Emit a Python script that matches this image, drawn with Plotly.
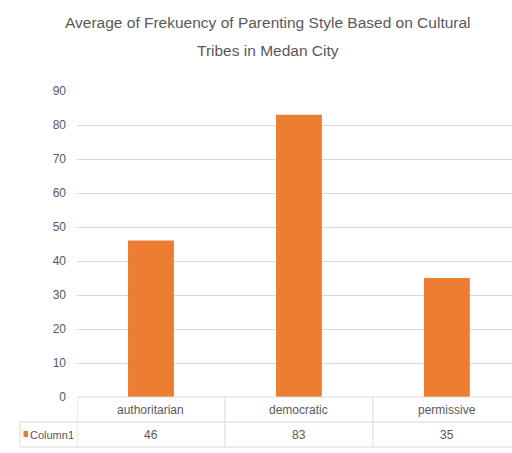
import plotly.graph_objects as go

categories = ["authoritarian", "democratic", "permissive"]
values = [46, 83, 35]
series_name = "Column1"
title_lines = ["Average of Frekuency of Parenting Style Based on Cultural", "Tribes in Medan City"]
y_ticks = list(range(0, 100, 10))

BAR = "#ED7D31"
TXT = "#595959"
GRID = "#D9D9D9"
FONT = "Liberation Sans, Arial, sans-serif"

W, H = 512, 453
ML, MR, MT, MB = 77, 0, 91, 56
plot_h = H - MT - MB
plot_w = W - ML - MR

def py(px):
    # pixel offset below the plot bottom -> paper y
    return -px / plot_h

def pxp(px):
    return (px - ML) / plot_w

def top_px(px):
    # pixel from top of figure -> paper y
    return 1 + (MT - px) / plot_h

idx = list(range(len(categories)))

fig = go.Figure()
fig.add_trace(go.Bar(x=idx, y=values, marker=dict(color=BAR, line=dict(width=0)),
                     width=0.31, name=series_name, showlegend=False))

shapes = []
annotations = []
row1 = py(25)
row2 = py(50)
shapes.append(dict(type="line", xref="paper", yref="paper", x0=0, x1=1, y0=0, y1=0,
                   line=dict(color=GRID, width=1)))
for yy in (row1, row2):
    shapes.append(dict(type="line", xref="paper", yref="paper", x0=pxp(20), x1=1, y0=yy, y1=yy,
                       line=dict(color=GRID, width=1)))
for i in idx:
    shapes.append(dict(type="line", xref="x", yref="paper", x0=i - 0.5, x1=i - 0.5, y0=0, y1=row2,
                       line=dict(color=GRID, width=1)))
shapes.append(dict(type="line", xref="paper", yref="paper", x0=pxp(20), x1=pxp(20), y0=row1, y1=row2,
                   line=dict(color=GRID, width=1)))
shapes.append(dict(type="rect", xref="paper", yref="paper", x0=pxp(23.5), x1=pxp(28),
                   y0=py(34), y1=py(40), fillcolor=BAR, line=dict(width=0)))

tfont = dict(family=FONT, size=12, color=TXT)
for i, c, v in zip(idx, categories, values):
    annotations.append(dict(x=i, y=py(12.5), xref="x", yref="paper", text=c, showarrow=False,
                            font=tfont, yanchor="middle"))
    annotations.append(dict(x=i, y=py(37.5), xref="x", yref="paper", text=str(v), showarrow=False,
                            font=tfont, yanchor="middle"))
annotations.append(dict(x=pxp(30), y=py(37.5), xref="paper", yref="paper", text=series_name,
                        showarrow=False, xanchor="left", yanchor="middle", xshift=-2,
                        font=dict(family=FONT, size=11, color=TXT)))

for line, ypx in zip(title_lines, (23, 50)):
    annotations.append(dict(x=pxp(268), y=top_px(ypx), xref="paper", yref="paper", text=line,
                            showarrow=False, xanchor="center", yanchor="middle",
                            font=dict(family=FONT, size=15.5, color=TXT)))

fig.update_layout(
    width=W, height=H,
    margin=dict(l=ML, r=MR, t=MT, b=MB),
    paper_bgcolor="white", plot_bgcolor="white",
    xaxis=dict(range=[-0.5, 2.44], showticklabels=False, showgrid=False, zeroline=False,
               showline=False, ticks="", fixedrange=True),
    yaxis=dict(range=[0, 90], tickvals=y_ticks, showgrid=True, gridcolor=GRID, gridwidth=1,
               zeroline=False, showline=False, ticks="", ticklabelstandoff=10,
               tickfont=dict(family=FONT, size=12, color=TXT)),
    shapes=shapes, annotations=annotations,
    showlegend=False,
)

fig.write_html("out.html")
